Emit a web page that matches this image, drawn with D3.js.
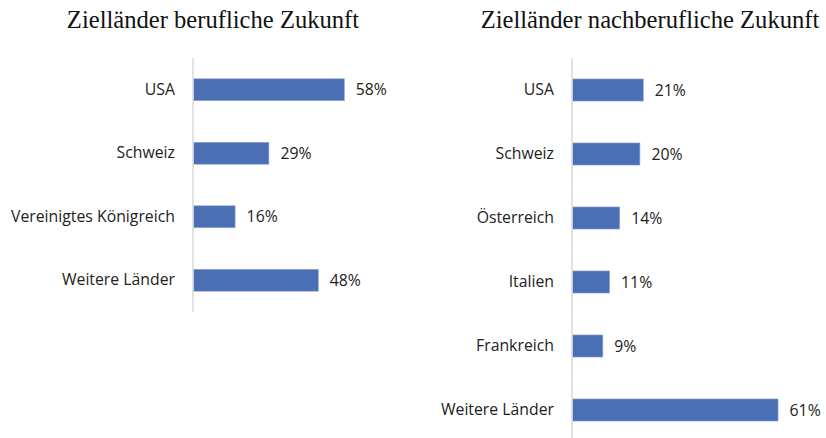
<!DOCTYPE html>
<html>
<head>
<meta charset="utf-8">
<script src="https://cdn.jsdelivr.net/npm/d3@7"></script>
<style>
  html, body { margin: 0; padding: 0; background: #fff; }
  svg { display: block; }
</style>
</head>
<body>
<svg id="chart" width="826" height="438"></svg>
<script>
// Career destinations
const careerCountries = ["USA", "Schweiz", "Vereinigtes Königreich", "Weitere Länder"];
const careerShares = [58, 29, 16, 48];

// Post-career destinations
const retireCountries = ["USA", "Schweiz", "Österreich", "Italien", "Frankreich", "Weitere Länder"];
const retireShares = [21, 20, 14, 11, 9, 61];

const titles = ["Zielländer berufliche Zukunft", "Zielländer nachberufliche Zukunft"];

const svg = d3.select("#chart");
const barColor = "#4a6fb5";
const labelFont = "'Open Sans', 'Noto Sans', sans-serif";

function panel(opts) {
  const { categories, values, title, axisX, titleX, yRange, pxPerPct } = opts;
  const g = svg.append("g");

  const x = d3.scaleLinear().domain([0, 100]).range([axisX, axisX + 100 * pxPerPct]);
  const y = d3.scaleBand().domain(categories).range(yRange).paddingInner(0.655).paddingOuter(0.3275);

  g.append("text")
    .attr("x", titleX).attr("y", 27.5)
    .attr("text-anchor", "middle")
    .attr("font-family", "'Liberation Serif', 'Times New Roman', serif")
    .attr("font-size", 24.6)
    .attr("fill", "#111")
    .text(title);

  g.selectAll("rect.bar")
    .data(values)
    .join("rect")
    .attr("class", "bar")
    .attr("x", x(0) + 0.5)
    .attr("y", (d, i) => y(categories[i]))
    .attr("width", d => x(d) - x(0))
    .attr("height", y.bandwidth())
    .attr("fill", barColor)
    .attr("stroke", "#8ea6d6")
    .attr("stroke-width", 0.6);

  // category axis
  const axis = d3.axisLeft(y).tickSize(0).tickPadding(18);
  const ag = g.append("g").attr("transform", `translate(${axisX},0)`).call(axis);
  ag.select(".domain").attr("stroke", "#d9d9d9").attr("stroke-width", 1.5)
    .attr("d", `M0,${yRange[0]}V${yRange[1]}`);
  ag.selectAll(".tick text")
    .attr("font-family", labelFont)
    .attr("font-size", 15.8)
    .attr("fill", "#222");

  g.selectAll("text.value")
    .data(values)
    .join("text")
    .attr("class", "value")
    .attr("x", d => x(d) + 12)
    .attr("y", (d, i) => y(categories[i]) + y.bandwidth() / 2)
    .attr("dy", "0.36em")
    .attr("font-family", labelFont)
    .attr("font-size", 15.8)
    .attr("fill", "#222")
    .text(d => d + "%");
}

panel({
  categories: careerCountries, values: careerShares, title: titles[0],
  axisX: 193, titleX: 213, yRange: [58, 312], pxPerPct: 2.6
});
panel({
  categories: retireCountries, values: retireShares, title: titles[1],
  axisX: 572, titleX: 650, yRange: [58, 442], pxPerPct: 3.37
});
</script>
</body>
</html>
